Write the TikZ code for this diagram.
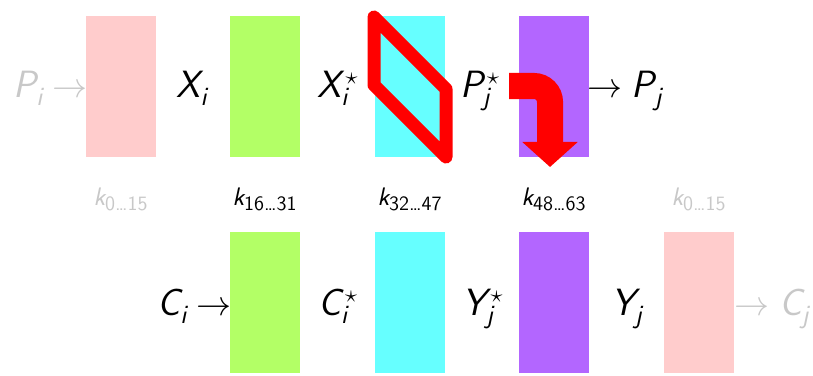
\documentclass[tikz,border=0pt]{standalone}
\usetikzlibrary{arrows.meta}
\DeclareMathAlphabet{\msf}{TU}{lmss}{m}{sl}
\newcommand\lb[3]{\ensuremath{\msf{#1}_{\msf{#2}}^{\kern3pt#3}}}
\newcommand\kl[1]{\ensuremath{\msf{k}_{\mbox{\fontsize{14.5}{16}\selectfont\sffamily #1}}}}
\definecolor{cpink}{RGB}{255,204,204}
\definecolor{cgreen}{RGB}{179,255,102}
\definecolor{ccyan}{RGB}{102,255,255}
\definecolor{cpurple}{RGB}{179,102,255}
\definecolor{cfaint}{RGB}{200,200,200}
\tikzset{
  blk/.style={minimum width=1.75cm, minimum height=3.525cm, inner sep=0pt, outer sep=0pt},
  lbl/.style={inner sep=0pt, font=\fontsize{27}{31}\selectfont},
  klbl/.style={inner sep=0pt, anchor=base, font=\fontsize{18}{22}\selectfont},
  faint/.style={text=cfaint},
  redline/.style={draw=red, line width=0.325cm, line join=round},
}
\begin{document}
\begin{tikzpicture}[x=0.025cm, y=-0.025cm]
\useasboundingbox (0,0) rectangle (813,375);
% top row boxes
\node[blk, fill=cpink]   (t1) at (121,86.5) {};
\node[blk, fill=cgreen]  (t2) at (265,86.5) {};
\node[blk, fill=ccyan]   (t3) at (410,86.5) {};
\node[blk, fill=cpurple] (t4) at (554,86.5) {};
% bottom row boxes
\node[blk, fill=cgreen]  (b2) at (265,302.5) {};
\node[blk, fill=ccyan]   (b3) at (410,302.5) {};
\node[blk, fill=cpurple] (b4) at (554,302.5) {};
\node[blk, fill=cpink]   (b5) at (699,302.5) {};
% top labels
\node[lbl, faint, anchor=base east] (pi) at (88,97) {\lb{P}{i}{}$\;\rightarrow$};
\node[lbl, anchor=base] (xi) at (192,97) {\lb{X}{i}{}};
\node[lbl, anchor=base] (xis) at (338,97) {\lb{X}{i}{\star}};
\node[lbl, anchor=base] (pjs) at (480,97) {\lb{P}{j}{\star}};
\node[lbl, anchor=base west] (pj) at (587,97) {$\rightarrow\;$\lb{P}{j}{}};
% key labels
\node[klbl, faint] (k1) at (121,205) {\kl{0\ldots15}};
\node[klbl] (k2) at (265,205) {\kl{16\ldots31}};
\node[klbl] (k3) at (410,205) {\kl{32\ldots47}};
\node[klbl] (k4) at (554,205) {\kl{48\ldots63}};
\node[klbl, faint] (k5) at (699,205) {\kl{0\ldots15}};
% bottom labels
\node[lbl, anchor=base east] (ci) at (232,315) {\lb{C}{i}{}$\;\rightarrow$};
\node[lbl, anchor=base] (cis) at (338,315) {\lb{C}{i}{\star}};
\node[lbl, anchor=base] (yjs) at (483,315) {\lb{Y}{j}{\star}};
\node[lbl, anchor=base] (yj) at (627,315) {\lb{Y}{j}{}};
\node[lbl, faint, anchor=base west] (cj) at (734,315) {$\rightarrow\;$\lb{C}{j}{}};
% red parallelogram
\coordinate (q1) at (374,17);
\coordinate (q2) at (446,89);
\coordinate (q3) at (446,157);
\coordinate (q4) at (374,85);
\draw[redline] (q1) -- (q2) -- (q3) -- (q4) -- cycle;
% red bent arrow
\coordinate (a1) at (509,86);
\coordinate (a2) at (550,167);
\draw[red, line width=0.65cm, rounded corners=0.4cm,
      -{Triangle[length=0.625cm, width=1.35cm]}] (a1) -| (a2);
\end{tikzpicture}
\end{document}
